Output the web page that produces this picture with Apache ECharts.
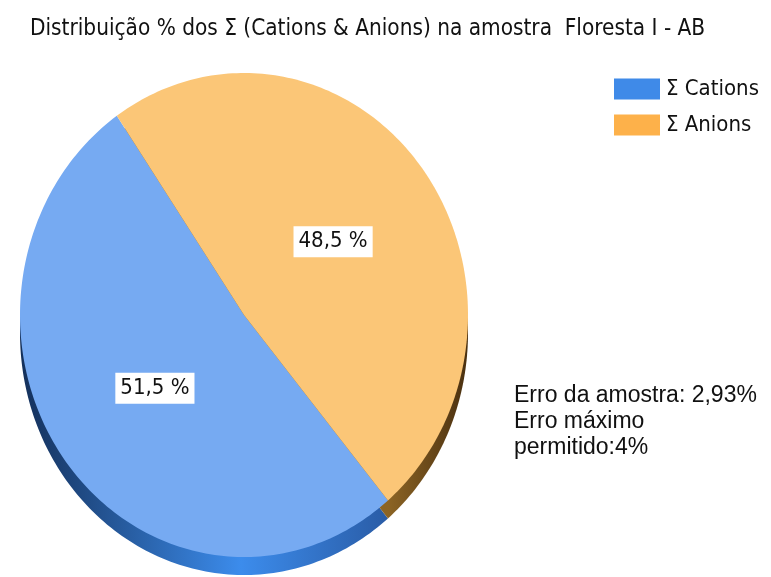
<!DOCTYPE html>
<html>
<head>
<meta charset="utf-8">
<script src="https://cdn.jsdelivr.net/npm/echarts@6/dist/echarts.min.js"></script>
<style>
html,body{margin:0;padding:0;background:#fff;}
#main{width:771px;height:577px;}
</style>
</head>
<body>
<div id="main"></div>
<script>
// dados do grafico
var names = ["Σ Cations", "Σ Anions"];
var values = [51.5, 48.5];
var labels = ["51,5 %", "48,5 %"];
var noteLines = ["Erro da amostra: 2,93%", "Erro máximo", "permitido:4%"];

// geometria da pizza (elipse + espessura)
var cx = 244, cy = 315, rx = 224, ry = 242, depth = 18;
var startAngle = 310;
var faceColors = ["#76aaf2", "#fbc677"];
var legendColors = ["#3f8ae8", "#fdb14a"];
var sideColors = [
  new echarts.graphic.LinearGradient(20, 0, 388, 0, [
    { offset: 0, color: "#14305a" },
    { offset: 0.6, color: "#3c8cec" },
    { offset: 1, color: "#2a5ca6" },
  ], true),
  new echarts.graphic.LinearGradient(388, 0, 468, 0, [
    { offset: 0, color: "#8c6424" },
    { offset: 1, color: "#4a3010" },
  ], true),
];
var narrow = '"Liberation Sans Narrow", "DejaVu Sans Condensed", sans-serif';

function arcPoints(a0, a1, dy) {
  var pts = [[cx, cy + dy]];
  var n = 160;
  for (var k = 0; k <= n; k++) {
    var a = ((a0 + (a1 - a0) * k / n) * Math.PI) / 180;
    pts.push([cx + rx * Math.cos(a), cy + dy - ry * Math.sin(a)]);
  }
  return pts;
}

function sliceItem(idx) {
  return function (params, api) {
    var total = 0, before = 0;
    for (var i = 0; i < values.length; i++) {
      total += values[i];
      if (i < idx) before += values[i];
    }
    var a0 = startAngle - (before / total) * 360;
    var a1 = a0 - (values[idx] / total) * 360;
    var mid = ((a0 + a1) / 2) * Math.PI / 180;
    return {
      type: "group",
      children: [
        { type: "polygon", z2: 1, shape: { points: arcPoints(a0, a1, depth) }, style: { fill: sideColors[idx] } },
        { type: "polygon", z2: 5, shape: { points: arcPoints(a0, a1, 0) }, style: { fill: faceColors[idx] } },
        {
          type: "text",
          z2: 10,
          style: {
            text: labels[idx],
            x: cx + Math.cos(mid) * rx * 0.5,
            y: cy - Math.sin(mid) * ry * 0.5,
            align: "center",
            verticalAlign: "middle",
            font: "22px " + narrow,
            fill: "#111",
            backgroundColor: "#fff",
            padding: [5, 5, 4, 5],
          },
        },
      ],
    };
  };
}

var series = [];
for (var i = 0; i < names.length; i++) {
  series.push({
    type: "custom",
    name: names[i],
    coordinateSystem: "none",
    itemStyle: { color: legendColors[i] },
    renderItem: sliceItem(i),
    data: [[values[i]]],
  });
}

var myChart = echarts.init(document.getElementById("main"));
var option = {
  animation: false,
  title: {
    text: "Distribuição % dos Σ (Cations & Anions) na amostra  Floresta I - AB",
    left: 25,
    top: 13,
    textStyle: { fontFamily: narrow, fontSize: 22.4, fontWeight: "normal", color: "#111" },
  },
  legend: {
    orient: "vertical",
    left: 609,
    top: 73,
    icon: "rect",
    itemWidth: 46,
    itemHeight: 21,
    itemGap: 14,
    data: names,
    textStyle: { fontFamily: narrow, fontSize: 22, color: "#111", padding: [0, 0, 0, 1] },
  },
  graphic: [
    {
      type: "text",
      left: 514,
      top: 383,
      style: {
        text: noteLines.join("\n"),
        font: "23px 'Liberation Sans', Arial, sans-serif",
        lineHeight: 26,
        fill: "#111",
      },
    },
  ],
  series: series,
};
myChart.setOption(option);
</script>
</body>
</html>
